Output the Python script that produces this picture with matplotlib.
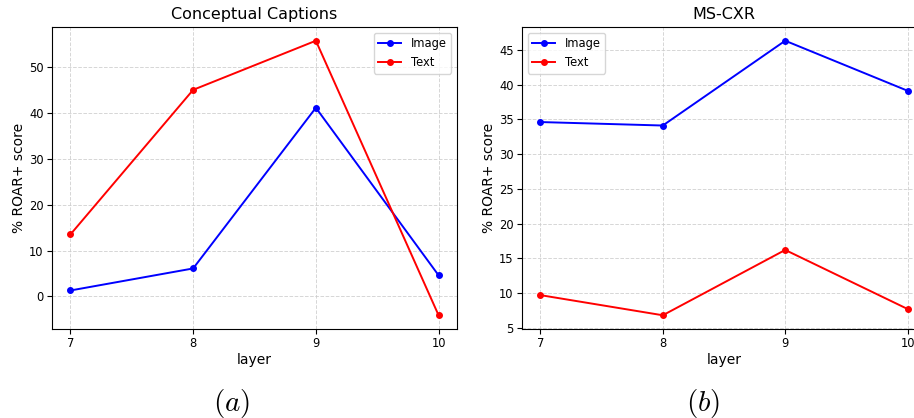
import matplotlib.pyplot as plt

layers = [7, 8, 9, 10]

cc_image = [1.3, 6.1, 41.1, 4.6]
cc_text = [13.5, 45.0, 55.7, -4.1]

cxr_image = [34.6, 34.1, 46.3, 39.1]
cxr_text = [9.7, 6.8, 16.2, 7.7]

W, H = 914, 418
fig = plt.figure(figsize=(W / 100, H / 100), dpi=100)

# axes placed in pixel terms; the second panel runs past the right edge
ax1 = fig.add_axes([52 / W, (H - 329) / H, 405 / W, 302 / H])
ax2 = fig.add_axes([522 / W, (H - 329) / H, 404 / W, 302 / H])


def draw(ax, image, text, title, loc):
    ax.plot(layers, image, '-o', color='blue', markersize=4, linewidth=1.4, label='Image')
    ax.plot(layers, text, '-o', color='red', markersize=4, linewidth=1.4, label='Text')
    ax.set_title(title, fontsize=11.5)
    ax.set_xlabel("layer", fontsize=10, labelpad=2)
    ax.set_ylabel("% ROAR+ score", fontsize=10, labelpad=2)
    ax.set_xticks(layers)
    ax.tick_params(labelsize=8.3, pad=2.5)
    ax.grid(True, linestyle='--', color='#cccccc', alpha=0.8, linewidth=0.7)
    ax.legend(loc=loc, fontsize=8.3)


draw(ax1, cc_image, cc_text, "Conceptual Captions", 'upper right')
draw(ax2, cxr_image, cxr_text, "MS-CXR", 'upper left')

fig.text(232 / W, 1 - 403 / H, r"$(a)$", fontsize=21, ha='center', va='center', math_fontfamily='cm')
fig.text(703 / W, 1 - 403 / H, r"$(b)$", fontsize=21, ha='center', va='center', math_fontfamily='cm')

fig.savefig("out.png", dpi=100)
